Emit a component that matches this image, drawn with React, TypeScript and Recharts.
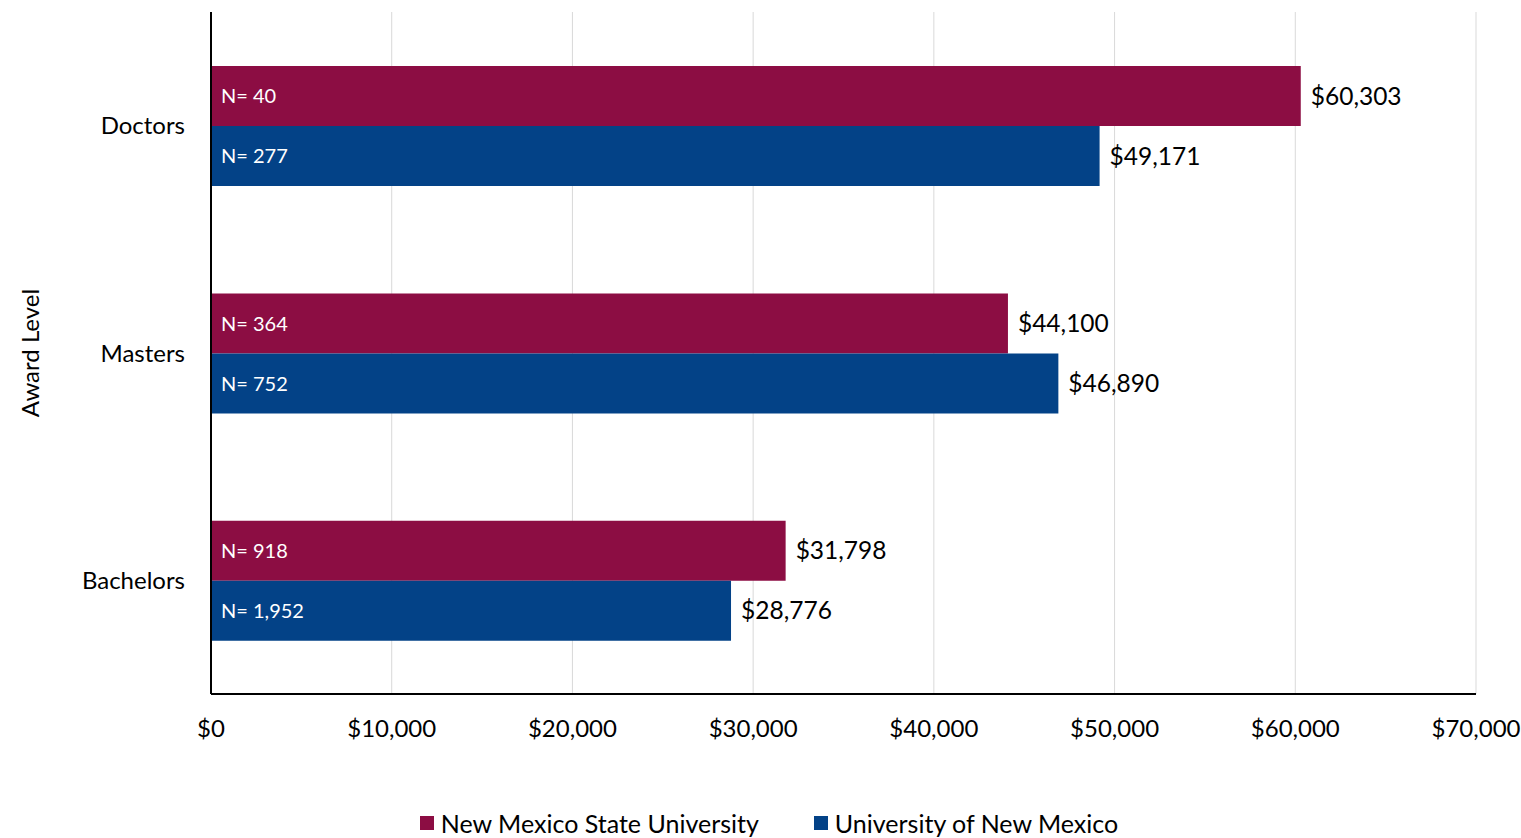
import { BarChart, Bar, XAxis, YAxis, CartesianGrid, Legend, LabelList } from "recharts";

const levels = ["Doctors", "Masters", "Bachelors"];
const nmsuSalary = [60303, 44100, 31798];
const unmSalary = [49171, 46890, 28776];
const nmsuCount = ["N= 40", "N= 364", "N= 918"];
const unmCount = ["N= 277", "N= 752", "N= 1,952"];
const xTicks = [0, 10000, 20000, 30000, 40000, 50000, 60000, 70000];

const MAROON = "#8C0D43";
const BLUE = "#034287";
const FONT = "Lato, 'Open Sans', sans-serif";

const rows = levels.map((level, i) => ({
  level,
  nmsu: nmsuSalary[i],
  unm: unmSalary[i],
  nmsuN: nmsuCount[i],
  unmN: unmCount[i],
}));

const money = (v: number) => "$" + v.toLocaleString("en-US");

function LegendBox() {
  const items = [
    { name: "New Mexico State University", color: MAROON },
    { name: "University of New Mexico", color: BLUE },
  ];
  return (
    <div
      style={{
        display: "flex",
        justifyContent: "center",
        alignItems: "center",
        boxSizing: "border-box",
        height: 36,
        paddingTop: 6,
        gap: 55,
        paddingLeft: 17,
        fontFamily: FONT,
        fontSize: 25,
        color: "#000",
      }}
    >
      {items.map((it) => (
        <div key={it.name} style={{ display: "flex", alignItems: "center", gap: 7 }}>
          <span style={{ width: 14, height: 14, background: it.color, display: "inline-block" }} />
          <span>{it.name}</span>
        </div>
      ))}
    </div>
  );
}

export default function App() {
  return (
    <div style={{ width: 1521, height: 838, background: "#fff" }}>
      <style>{"body{margin:0}"}</style>
      <BarChart
        width={1521}
        height={838}
        data={rows}
        layout="vertical"
        margin={{ top: 12, right: 45, bottom: 0, left: 0 }}
        barCategoryGap="23.8%"
        barGap={0}
      >
        <CartesianGrid horizontal={false} stroke="#d9d9d9" />
        <XAxis
          type="number"
          domain={[0, 70000]}
          ticks={xTicks}
          tickFormatter={money}
          height={108}
          tickLine={false}
          tickMargin={20}
          axisLine={{ stroke: "#000", strokeWidth: 2 }}
          tick={{ fill: "#000", fontSize: 24, fontFamily: FONT }}
          interval={0}
        />
        <YAxis
          type="category"
          dataKey="level"
          width={211}
          tickLine={false}
          tickMargin={20}
          axisLine={{ stroke: "#000", strokeWidth: 2 }}
          tick={{ fill: "#000", fontSize: 24, fontFamily: FONT }}
          label={{
            value: "Award Level",
            angle: -90,
            position: "insideLeft",
            offset: 30,
            style: { textAnchor: "middle", fill: "#000", fontSize: 24, fontFamily: FONT },
          }}
        />
        <Legend
          verticalAlign="bottom"
          content={() => <LegendBox />}
          wrapperStyle={{ left: 0, width: 1521, bottom: 0, height: 36 }}
        />
        <Bar dataKey="nmsu" name="New Mexico State University" fill={MAROON} isAnimationActive={false}>
          <LabelList
            dataKey="nmsu"
            position="right"
            offset={10}
            formatter={(v: number) => money(v)}
            style={{ fill: "#000", fontSize: 24.5, fontFamily: FONT }}
          />
          <LabelList
            dataKey="nmsuN"
            position="insideLeft"
            offset={10}
            style={{ fill: "#fff", fontSize: 20, fontFamily: FONT }}
          />
        </Bar>
        <Bar dataKey="unm" name="University of New Mexico" fill={BLUE} isAnimationActive={false}>
          <LabelList
            dataKey="unm"
            position="right"
            offset={10}
            formatter={(v: number) => money(v)}
            style={{ fill: "#000", fontSize: 24.5, fontFamily: FONT }}
          />
          <LabelList
            dataKey="unmN"
            position="insideLeft"
            offset={10}
            style={{ fill: "#fff", fontSize: 20, fontFamily: FONT }}
          />
        </Bar>
      </BarChart>
    </div>
  );
}
